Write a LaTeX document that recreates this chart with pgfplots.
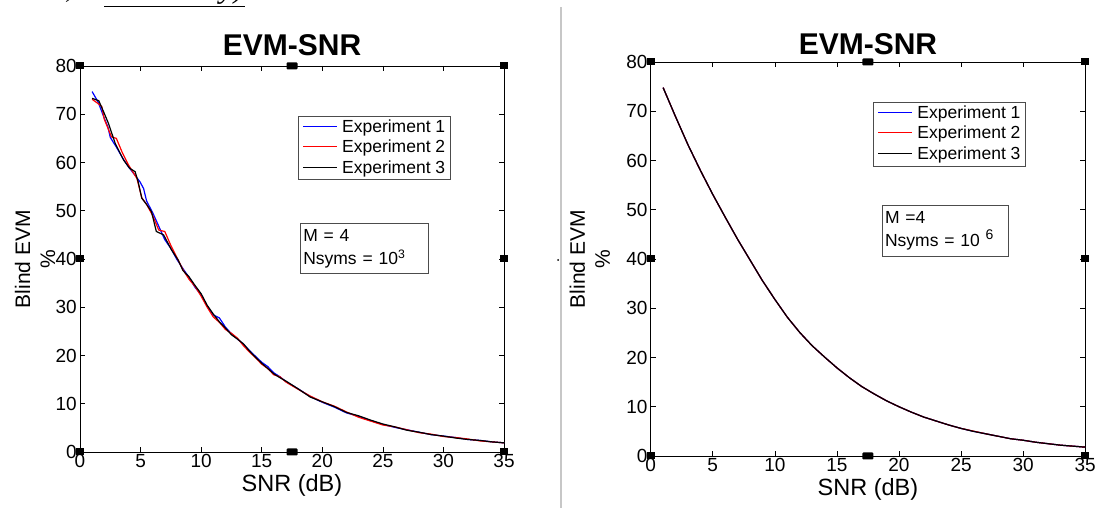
\documentclass[border=0pt]{standalone}
\usepackage{fontspec}
\setmainfont{Liberation Sans}
\newfontfamily\serif{Liberation Serif}
\usepackage{pgfplots}
\pgfplotsset{compat=1.18}

\newcommand{\legkey}[1]{\textcolor{#1}{\rule[5.2pt]{34pt}{1.3pt}}\hspace{5pt}}

\tikzset{
  legbox/.style={draw=black!70, fill=white, anchor=north west, align=left,
    inner xsep=5pt, inner ysep=3pt, font=\fontsize{17.5}{20.5}\selectfont},
}

\pgfplotsset{
  evmstyle/.style={
    scale only axis,
    xmin=0, xmax=35, ymin=0, ymax=80,
    xtick={0,5,...,35}, ytick={0,10,...,80},
    tick pos=both, tick align=inside,
    major tick length=5pt,
    axis line style={line width=0.8pt, black},
    every tick/.style={black, line width=0.6pt},
    /pgf/number format/assume math mode=true,
    tick label style={font=\fontsize{19}{21}\selectfont},
    xticklabel style={inner sep=2pt},
    yticklabel style={inner sep=3pt},
    title style={at={(0.5,1)}, anchor=base, font=\bfseries\fontsize{30}{32}\selectfont},
    xlabel style={at={(0.5,0)}, anchor=base, yshift=-40pt, font=\fontsize{23.5}{26}\selectfont},
    ylabel style={anchor=center, align=center, font=\fontsize{21}{25}\selectfont},
    every axis plot/.append style={line width=1.2pt},
    clip=true,
    after end axis/.code={
      \foreach \hx/\hy in {0/0,0/0.5,1/0.5,0/1,1/1,1/0}{
        \fill[black] (rel axis cs:\hx,\hy) ++(-4pt,-3.5pt) rectangle ++(8pt,7pt);
      }
      \foreach \hx/\hy in {0.5/0,0.5/1}{
        \fill[black, rounded corners=1pt] (rel axis cs:\hx,\hy) ++(-5.5pt,-3.5pt) rectangle ++(11pt,7pt);
      }
    },
  },
}

\begin{document}
\begin{tikzpicture}
\useasboundingbox (0,0) rectangle (1099pt,508pt);
% separator and top caption
\draw[black!22, line width=1.6pt] (561pt,0pt) -- (561pt,501pt);
\fill[black] (558pt,248pt) circle (1pt);
\node[anchor=base west, font=\serif\itshape\fontsize{24}{26}\selectfont, inner sep=0pt] at (55pt,510pt) {a)};
\node[anchor=base west, font=\serif\itshape\fontsize{32}{34}\selectfont, inner sep=0pt] at (104pt,510pt) {\underline{Monotony)}};

% ---------------- Left axis ----------------
\begin{axis}[evmstyle,
  at={(80pt,56pt)}, anchor=south west,
  width=424pt, height=386pt,
  title={EVM-SNR}, title style={yshift=4pt},
  xlabel={SNR (dB)},
  ylabel={Blind EVM\\\%},
  ylabel style={at={(axis description cs:-0.106,0.5)}},
]
\addplot[blue, line width=1.2pt] coordinates {
(1.0,74.7)(1.25,73.6)(1.5,72.5)(2.0,69.2)(2.3,67.4)(2.5,65.2)(3.0,63.2)(3.5,61.0)(4.0,59.1)(4.5,57.5)
(4.95,56.0)(5.25,54.6)(5.5,52.0)(6.0,49.6)(6.5,46.8)(7.0,44.0)(7.5,42.2)(8.0,39.9)(8.5,38.0)(9.0,36.2)
(9.5,34.1)(10,32.6)(10.5,30.2)(11,28.4)(11.5,27.8)(12,25.9)(12.5,24.5)(13,23.4)(13.5,22.3)(14,21.0)
(14.5,19.8)(15,18.6)(15.5,17.7)(16,16.4)(16.5,15.6)(17,14.6)(18,13.1)(19,11.5)(20,10.3)(21,9.3)(22,8.1)
(23,7.4)(24,6.5)(25,5.7)(26,5.1)(27,4.6)(28,4.1)(29,3.6)(30,3.3)(31,3.0)(32,2.6)(33,2.4)(34,2.1)(35,1.9)
};
\addplot[red, line width=1.2pt] coordinates {
(1.0,73.1)(1.5,72.2)(1.8,71.6)(2.0,69.0)(2.6,65.3)(3.0,65.0)(3.5,62.0)(4.0,59.5)(4.7,56.7)(5.1,52.7)
(5.5,51.3)(6.0,49.0)(6.5,46.0)(7.0,45.7)(7.5,42.8)(7.9,40.8)(8.5,37.8)(9.0,35.8)(9.5,34.3)(10,32.3)
(10.5,30.0)(11,28.0)(11.5,26.9)(12,25.4)(12.5,24.6)(13,23.6)(13.5,22.0)(14,20.7)(14.5,19.5)(15,18.2)
(15.5,17.3)(16,16.0)(16.5,15.6)(17,14.5)(18,13.0)(19,11.6)(20,10.4)(21,9.5)(22,8.3)(23,7.2)(24,6.4)
(25,5.6)(26,5.2)(27,4.6)(28,4.0)(29,3.7)(30,3.2)(31,3.0)(32,2.7)(33,2.3)(34,2.1)(35,1.9)
};
\addplot[black, line width=1.2pt] coordinates {
(1.0,73.3)(1.55,72.8)(2.0,70.2)(2.35,68.1)(2.9,64.0)(3.6,60.5)(4.1,58.8)(4.55,58.1)(4.8,56.0)(5.1,52.6)
(5.5,51.3)(5.9,49.8)(6.3,45.7)(6.9,45.0)(7.55,41.9)(8.1,39.8)(8.5,37.6)(9.0,36.3)(9.5,34.5)(10,32.8)
(10.5,30.4)(11,28.6)(11.5,27.0)(12,25.7)(12.5,24.3)(13,23.4)(13.5,22.4)(14,20.9)(14.5,19.6)(15,18.4)
(15.5,17.3)(16,16.2)(16.5,15.4)(17,14.7)(18,13.1)(19,11.4)(20,10.4)(21,9.4)(22,8.2)(23,7.5)(24,6.6)
(25,5.8)(26,5.2)(27,4.5)(28,4.1)(29,3.6)(30,3.3)(31,2.9)(32,2.6)(33,2.4)(34,2.1)(35,1.9)
};
\node[legbox] at (rel axis cs:0.514,0.87)
  {\legkey{blue}Experiment 1\\\legkey{red}Experiment 2\\\legkey{black}Experiment 3};
\node[draw=black!70, fill=white, anchor=north west, align=left,
  text width=122pt, minimum height=50pt, inner xsep=3pt, inner ysep=3pt,
  font=\fontsize{17.5}{23}\selectfont] at (rel axis cs:0.519,0.592)
  {M = 4\\Nsyms = 10\textsuperscript{3}};
\end{axis}

% ---------------- Right axis ----------------
\begin{axis}[evmstyle,
  at={(650.7pt,52pt)}, anchor=south west,
  width=434.5pt, height=394pt,
  title={EVM-SNR}, title style={yshift=1pt},
  xlabel={SNR (dB)},
  ylabel={Blind EVM\\\%},
  ylabel style={at={(axis description cs:-0.14,0.5)}},
]
\addplot[blue, line width=1.2pt] coordinates {
(1,74.8)(2,68.9)(3,63.2)(4,58.0)(5,53.1)(6,48.5)(7,44.0)(8,39.8)(9,35.6)(10,31.8)
(11,28.2)(12,25.1)(13,22.4)(14,20.1)(15,17.9)(16,15.9)(17,14.1)(18,12.6)(19,11.2)(20,10.0)
(21,8.9)(22,7.9)(23,7.1)(24,6.3)(25,5.6)(26,5.0)(27,4.5)(28,4.0)(29,3.5)(30,3.2)
(31,2.8)(32,2.5)(33,2.2)(34,2.0)(35,1.8)
};
\addplot[red, line width=1.2pt] coordinates {
(1,74.8)(2,68.9)(3,63.2)(4,58.0)(5,53.1)(6,48.5)(7,44.0)(8,39.8)(9,35.6)(10,31.8)
(11,28.2)(12,25.1)(13,22.4)(14,20.1)(15,17.9)(16,15.9)(17,14.1)(18,12.6)(19,11.2)(20,10.0)
(21,8.9)(22,7.9)(23,7.1)(24,6.3)(25,5.6)(26,5.05)(27,4.5)(28,4.0)(29,3.5)(30,3.2)
(31,2.8)(32,2.5)(33,2.2)(34,2.0)(35,1.8)
};
\addplot[black, line width=1.2pt] coordinates {
(1,74.8)(2,68.9)(3,63.2)(4,58.0)(5,53.1)(6,48.5)(7,44.0)(8,39.8)(9,35.6)(10,31.8)
(11,28.2)(12,25.1)(13,22.4)(14,20.1)(15,17.9)(16,15.9)(17,14.1)(18,12.6)(19,11.2)(20,10.0)
(21,8.9)(22,7.9)(23,7.1)(24,6.3)(25,5.6)(26,5.0)(27,4.5)(28,4.0)(29,3.5)(30,3.2)
(31,2.8)(32,2.5)(33,2.2)(34,2.0)(35,1.8)
};
\node[legbox] at (rel axis cs:0.512,0.898)
  {\legkey{blue}Experiment 1\\\legkey{red}Experiment 2\\\legkey{black}Experiment 3};
\node[draw=black!70, fill=white, anchor=north west, align=left,
  text width=120pt, minimum height=51pt, inner xsep=3pt, inner ysep=3pt,
  font=\fontsize{17.5}{23}\selectfont] at (rel axis cs:0.532,0.637)
  {M =4\\Nsyms = 10 \raisebox{7pt}{\fontsize{14}{14}\selectfont 6}};
\end{axis}
\end{tikzpicture}
\end{document}
